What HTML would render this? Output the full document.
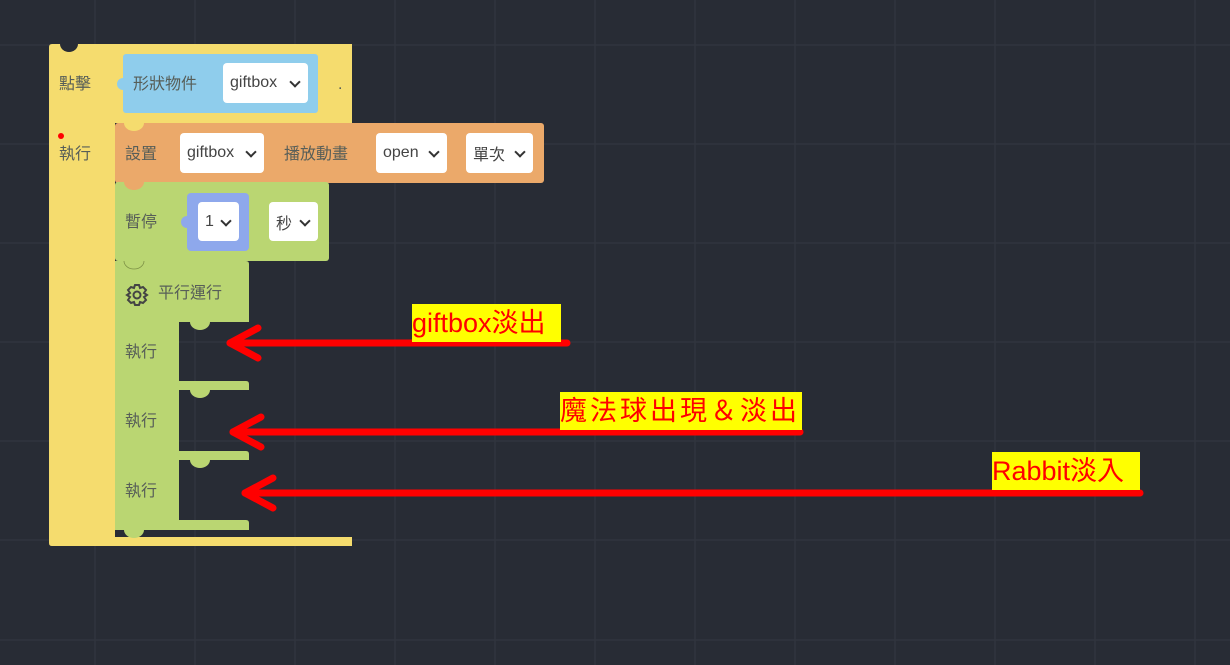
<!DOCTYPE html>
<html><head><meta charset="utf-8"><style>
body{margin:0;width:1230px;height:665px;overflow:hidden;background:#282c35;position:relative;font-family:"Liberation Sans","Noto Sans CJK TC",sans-serif;}
.a{position:absolute}
.t{position:absolute;font-size:16px;color:#575e58;line-height:20px}
.dd{position:absolute;background:#fff;border-radius:4px;font-size:16px;color:#444;display:flex;align-items:center;padding-left:7px;box-sizing:border-box}
.dd:after{content:"";position:absolute;right:9px;top:15px;width:6px;height:6px;border-right:2px solid #333;border-bottom:2px solid #333;transform:rotate(45deg)}
.lbl{position:absolute;background:#ffff00;color:#f00;font-size:27px;line-height:38px;white-space:nowrap;font-family:"Liberation Sans","Noto Sans CJK TC",sans-serif}
</style></head><body>
<svg class="a" style="left:0;top:0" width="1230" height="665">
<g stroke="#30343e" stroke-width="1.5">
<line x1="0" y1="45" x2="1230" y2="45"/><line x1="0" y1="144" x2="1230" y2="144"/><line x1="0" y1="243" x2="1230" y2="243"/><line x1="0" y1="342" x2="1230" y2="342"/><line x1="0" y1="441" x2="1230" y2="441"/><line x1="0" y1="540" x2="1230" y2="540"/><line x1="0" y1="640" x2="1230" y2="640"/>
<line x1="95" y1="0" x2="95" y2="665"/><line x1="195" y1="0" x2="195" y2="665"/><line x1="295" y1="0" x2="295" y2="665"/><line x1="395" y1="0" x2="395" y2="665"/><line x1="495" y1="0" x2="495" y2="665"/><line x1="595" y1="0" x2="595" y2="665"/><line x1="695" y1="0" x2="695" y2="665"/><line x1="795" y1="0" x2="795" y2="665"/><line x1="895" y1="0" x2="895" y2="665"/><line x1="995" y1="0" x2="995" y2="665"/><line x1="1095" y1="0" x2="1095" y2="665"/><line x1="1195" y1="0" x2="1195" y2="665"/>
</g>
<path d="M52 44 H352 V123 H115 V537 H352 V546 H52 Q49 546 49 543 V47 Q49 44 52 44Z" fill="#f5dc6e"/>
<path d="M60 44 a9 8 0 0 0 18 0z" fill="#282c35"/>
<rect x="123" y="54" width="195" height="59" rx="3" fill="#8fcdec"/>
<circle cx="123" cy="84" r="6" fill="#8fcdec"/>
<rect x="115" y="123" width="429" height="60" rx="3" fill="#eba96a"/>
<path d="M124 123 a10 8 0 0 0 20 0z" fill="#f5dc6e"/>
<rect x="115" y="182" width="214" height="79" rx="3" fill="#bad672"/>
<path d="M124 182 a10 8 0 0 0 20 0z" fill="#eba96a"/>
<rect x="187" y="193" width="62" height="58" rx="4" fill="#8ea8ec"/>
<circle cx="187" cy="222" r="6" fill="#8ea8ec"/>
<path d="M115 261 H246 Q249 261 249 264 V322 H179 V381 H246 Q249 381 249 384 V390 H179 V451 H246 Q249 451 249 454 V460 H179 V520 H246 Q249 520 249 523 V530 H115Z" fill="#bad672"/>
<path d="M124 261 a10 8 0 0 0 20 0" fill="none" stroke="#7d9146" stroke-width="0.8"/>
<path d="M190 322 a10 8 0 0 0 20 0z M190 390 a10 8 0 0 0 20 0z M190 460 a10 8 0 0 0 20 0z M124 530 a10 8 0 0 0 20 0z" fill="#bad672"/>
<circle cx="61" cy="136" r="3" fill="#f00"/>
<g stroke="#f00" stroke-width="7" stroke-linecap="round" stroke-linejoin="round" fill="none">
<line x1="567" y1="343" x2="230" y2="343"/><polyline points="258,328 230,343 258,358"/>
<line x1="800" y1="432" x2="233" y2="432"/><polyline points="261,417 233,432 261,447"/>
<line x1="1140" y1="493" x2="245" y2="493"/><polyline points="273,478 245,493 273,508"/>
</g>
<g transform="translate(137,295)" fill="none" stroke="#444" stroke-width="2"><circle r="3.5"/><path d="M-2 -10 H2 L3 -7 L6 -8 L9 -5 L7 -2 L10 0 L7 2 L9 5 L6 8 L3 7 L2 10 H-2 L-3 7 L-6 8 L-9 5 L-7 2 L-10 0 L-7 -2 L-9 -5 L-6 -8 L-3 -7Z"/></g>
</svg>
<div class="t" style="left:59px;top:75px">點擊</div>
<div class="t" style="left:59px;top:145px">執行</div>
<div class="t" style="left:133px;top:75px">形狀物件</div>
<div class="dd" style="left:223px;top:63px;width:85px;height:40px">giftbox</div>
<div class="t" style="left:338px;top:75px">.</div>
<div class="t" style="left:125px;top:145px">設置</div>
<div class="dd" style="left:180px;top:133px;width:84px;height:40px">giftbox</div>
<div class="t" style="left:284px;top:145px">播放動畫</div>
<div class="dd" style="left:376px;top:133px;width:71px;height:40px">open</div>
<div class="dd" style="left:466px;top:133px;width:67px;height:40px">單次</div>
<div class="t" style="left:125px;top:213px">暫停</div>
<div class="dd" style="left:198px;top:202px;width:41px;height:39px">1</div>
<div class="dd" style="left:269px;top:202px;width:49px;height:39px">秒</div>
<div class="t" style="left:158px;top:284px">平行運行</div>
<div class="t" style="left:125px;top:343px">執行</div>
<div class="t" style="left:125px;top:412px">執行</div>
<div class="t" style="left:125px;top:482px">執行</div>
<div class="lbl" style="left:412px;top:304px;width:149px">giftbox淡出</div>
<div class="lbl" style="left:560px;top:392px;width:242px;letter-spacing:3px">魔法球出現＆淡出</div>
<div class="lbl" style="left:992px;top:452px;width:148px">Rabbit淡入</div>
</body></html>
